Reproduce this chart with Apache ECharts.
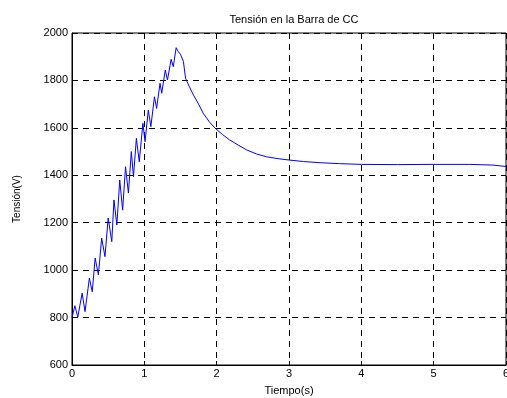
<!DOCTYPE html>
<html>
<head>
<meta charset="utf-8">
<script src="https://cdn.jsdelivr.net/npm/echarts@6/dist/echarts.min.js"></script>
<style>
  html, body { margin: 0; padding: 0; background: #fff; }
  #graph { width: 507px; height: 398px; }
</style>
</head>
<body>
<div id="graph"></div>
<script>
// tiempo (s) y tension (V)
const timeS = [0, 0.04, 0.08, 0.14, 0.18, 0.24, 0.28, 0.32, 0.365, 0.41, 0.456, 0.50, 0.55, 0.58, 0.62,
  0.66, 0.70, 0.74, 0.78, 0.82, 0.85, 0.89, 0.93, 0.98, 1.01, 1.055, 1.09, 1.14, 1.17, 1.217, 1.24,
  1.29, 1.32, 1.37, 1.40, 1.44, 1.47, 1.50, 1.54, 1.57, 1.62, 1.68, 1.75, 1.815, 1.90, 1.98, 2.08,
  2.18, 2.30, 2.415, 2.55, 2.69, 2.85, 3.01, 3.2, 3.43, 3.7, 4.0, 4.5, 4.95, 5.5, 5.82, 6.0];
const voltageV = [800, 850, 802, 903, 825, 966, 909, 1051, 980, 1135, 1057, 1220, 1120, 1296, 1190,
  1380, 1253, 1436, 1325, 1500, 1394, 1556, 1457, 1619, 1542, 1675, 1605, 1731, 1682, 1788, 1746,
  1844, 1802, 1889, 1858, 1938, 1921, 1910, 1880, 1809, 1775, 1738, 1700, 1661, 1625, 1598, 1572,
  1549, 1527, 1507, 1490, 1478, 1470, 1464, 1458, 1453, 1449, 1446, 1445, 1446, 1446, 1443, 1437];

const xTicks = [0, 1, 2, 3, 4, 5, 6];
const yTicks = [600, 800, 1000, 1200, 1400, 1600, 1800, 2000];

const font = 'Liberation Sans, Arial, sans-serif';
const chart = echarts.init(document.getElementById('graph'));

const gridLine = { show: true, lineStyle: { color: '#000', width: 1, type: [6, 5] } };

chart.setOption({
  animation: false,
  backgroundColor: '#fff',
  title: {
    text: 'Tensión en la Barra de CC',
    left: 289, top: 9, textAlign: 'center',
    textStyle: { fontFamily: font, fontSize: 11, fontWeight: 'normal', color: '#000' }
  },
  grid: {
    left: 72, right: 1, top: 33, bottom: 33,
    outerBoundsMode: 'none', containLabel: false,
    show: true, borderColor: '#000', borderWidth: 1, backgroundColor: '#fff'
  },
  xAxis: {
    type: 'value', min: xTicks[0], max: xTicks[xTicks.length - 1], interval: 1,
    name: 'Tiempo(s)', nameLocation: 'middle', nameGap: 20,
    nameTextStyle: { fontFamily: font, fontSize: 11, color: '#000' },
    axisLine: { show: true, lineStyle: { color: '#000' } },
    axisTick: { show: true, inside: true, length: 4, lineStyle: { color: '#000' } },
    axisLabel: { fontFamily: font, fontSize: 11, color: '#000', margin: 3 },
    splitLine: gridLine
  },
  yAxis: {
    type: 'value', min: yTicks[0], max: yTicks[yTicks.length - 1], interval: 200,
    name: 'Tensión(V)', nameLocation: 'middle', nameGap: 50, nameRotate: 90,
    nameTextStyle: { fontFamily: font, fontSize: 10, color: '#000' },
    axisLine: { show: true, lineStyle: { color: '#000' } },
    axisTick: { show: true, inside: true, length: 4, lineStyle: { color: '#000' } },
    axisLabel: { fontFamily: font, fontSize: 11, color: '#000', margin: 4, formatter: v => String(v) },
    splitLine: gridLine
  },
  series: [{
    type: 'line',
    data: timeS.map((t, i) => [t, voltageV[i]]),
    showSymbol: false,
    lineStyle: { color: '#0000ff', width: 1 },
    itemStyle: { color: '#0000ff' }
  }]
});
</script>
</body>
</html>
